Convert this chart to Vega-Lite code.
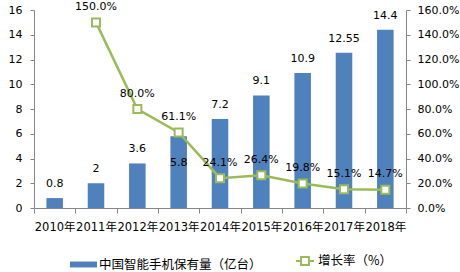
{
  "$schema": "https://vega.github.io/schema/vega-lite/v6.json",
  "width": 372,
  "height": 198,
  "autosize": "none",
  "padding": {"left": 34, "top": 10, "right": 54, "bottom": 64},
  "background": "white",
  "data": {
    "values": [
      {"year": "2010年", "count": 0.8, "rate": null},
      {"year": "2011年", "count": 2, "rate": 1.5},
      {"year": "2012年", "count": 3.6, "rate": 0.8},
      {"year": "2013年", "count": 5.8, "rate": 0.611},
      {"year": "2014年", "count": 7.2, "rate": 0.241},
      {"year": "2015年", "count": 9.1, "rate": 0.264},
      {"year": "2016年", "count": 10.9, "rate": 0.198},
      {"year": "2017年", "count": 12.55, "rate": 0.151},
      {"year": "2018年", "count": 14.4, "rate": 0.147}
    ]
  },
  "config": {
    "font": "DejaVu Sans, Noto Sans CJK SC",
    "view": {"stroke": null},
    "axis": {
      "grid": false,
      "domainColor": "#868686",
      "tickColor": "#868686",
      "labelColor": "#000000",
      "labelFont": "DejaVu Sans, Noto Sans CJK SC",
      "labelFontSize": 11,
      "title": null
    },
    "legend": {
      "labelFont": "Noto Sans CJK SC",
      "labelFontSize": 12.5,
      "labelColor": "#000000",
      "labelLimit": 0,
      "padding": 0,
      "title": null
    },
    "text": {"font": "DejaVu Sans, Noto Sans CJK SC", "fontSize": 11, "color": "#000000"}
  },
  "encoding": {
    "x": {
      "field": "year",
      "type": "ordinal",
      "sort": null,
      "scale": {"paddingInner": 0, "paddingOuter": 0},
      "axis": {
        "labelAngle": 0,
        "tickBand": "extent",
        "tickSize": 5,
        "labelPadding": 8,
        "labelFontSize": 11.5
      }
    }
  },
  "layer": [
    {
      "encoding": {
        "y": {
          "field": "count",
          "type": "quantitative",
          "scale": {"domain": [0, 16], "nice": false},
          "axis": {"orient": "left", "values": [0, 2, 4, 6, 8, 10, 12, 14, 16], "tickSize": 4, "labelPadding": 8}
        }
      },
      "layer": [
        {
          "mark": {"type": "bar", "width": {"band": 0.4}},
          "encoding": {
            "fill": {
              "datum": "中国智能手机保有量（亿台）",
              "scale": {"range": ["#4F81BD"]},
              "legend": {
                "orient": "none",
                "legendX": 36,
                "legendY": 241,
                "symbolType": "M-1,-0.22L1,-0.22L1,0.22L-1,0.22Z",
                "symbolSize": 729,
                "symbolStrokeWidth": 0,
                "labelOffset": 2
              }
            }
          }
        },
        {
          "transform": [{"filter": "datum.year != '2013年'"}],
          "mark": {"type": "text", "baseline": "middle", "dy": -14},
          "encoding": {"text": {"field": "count", "type": "quantitative"}}
        },
        {
          "transform": [{"filter": "datum.year == '2013年'"}],
          "mark": {"type": "text", "baseline": "middle", "dy": 27},
          "encoding": {"text": {"field": "count", "type": "quantitative"}}
        }
      ]
    },
    {
      "transform": [{"filter": "datum.rate != null"}],
      "encoding": {
        "y": {
          "field": "rate",
          "type": "quantitative",
          "scale": {"domain": [0, 1.6], "nice": false},
          "axis": {"orient": "right", "values": [0, 0.2, 0.4, 0.6, 0.8, 1.0, 1.2, 1.4, 1.6], "format": ".1%", "tickSize": 4, "labelPadding": 7}
        }
      },
      "layer": [
        {
          "mark": {
            "type": "line",
            "strokeWidth": 2.5,
            "point": {"shape": "square", "filled": false, "fill": "white", "size": 64, "strokeWidth": 2, "stroke": "#9BBB59"}
          },
          "encoding": {
            "stroke": {
              "datum": "增长率（%）",
              "scale": {"range": ["#9BBB59"]},
              "legend": {
                "orient": "none",
                "legendX": 261,
                "legendY": 241,
                "symbolType": "M-1,0L-0.44,0M0.44,0L1,0M-0.44,-0.44L0.44,-0.44L0.44,0.44L-0.44,0.44Z",
                "symbolSize": 324,
                "symbolStrokeWidth": 2,
                "symbolFillColor": "white",
                "labelOffset": 3
              }
            }
          }
        },
        {
          "mark": {"type": "text", "baseline": "middle", "dy": -15.5},
          "encoding": {"text": {"field": "rate", "type": "quantitative", "format": ".1%"}}
        }
      ]
    }
  ],
  "resolve": {"scale": {"y": "independent"}}
}
